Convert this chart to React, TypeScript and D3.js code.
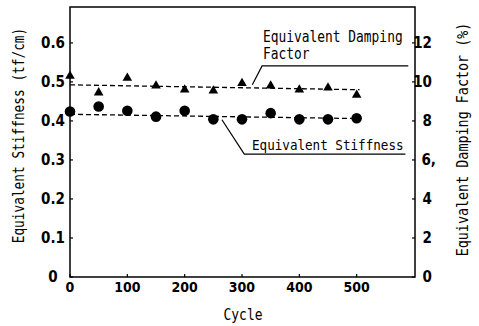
import React from "react";
import * as d3 from "d3";

// cycles where measurements were taken
const cycles = [0, 50, 100, 150, 200, 250, 300, 350, 400, 450, 500];
// equivalent stiffness (tf/cm), left axis
const stiffness = [0.424, 0.437, 0.426, 0.411, 0.426, 0.404, 0.404, 0.42, 0.404, 0.404, 0.407];
// equivalent damping factor (%), right axis
const damping = [10.3, 9.45, 10.2, 9.8, 9.6, 9.55, 9.93, 9.8, 9.6, 9.7, 9.33];

// dashed trend lines [cycle, value]
const stiffTrend: [number, number][] = [[0, 0.417], [505, 0.406]];
const dampTrend: [number, number][] = [[0, 9.85], [505, 9.6]];

const xTicks = [0, 100, 200, 300, 400, 500];
const leftTicks = [0, 0.1, 0.2, 0.3, 0.4, 0.5, 0.6];
const rightTicks = [0, 2, 4, 6, 8, 10, 12];
const rightTickLabels = ["0", "2", "4", "6,", "8", "10", "12"];

const W = 479;
const H = 326;
const M = { left: 70, right: 415, top: 7, bottom: 277 };

const monoFont = "'DejaVu Sans Mono', 'Liberation Mono', monospace";
const tickFont = "'DejaVu Sans Condensed', 'DejaVu Sans', sans-serif";

// tall, narrow label text like the original print
const Label = (props: { x: number; y: number; size: number; rotate?: boolean; anchor?: string; children: any }) => {
  const { x, y, size, rotate, anchor, children } = props;
  return (
    <g transform={`translate(${x},${y})${rotate ? " rotate(-90)" : ""} scale(1,1.18)`}>
      <text textAnchor={anchor || "start"} fontFamily={monoFont} fontSize={size}>
        {children}
      </text>
    </g>
  );
};

export default function App() {
  const x = d3.scaleLinear().domain([0, 600]).range([M.left, 414]);
  const yL = d3.scaleLinear().domain([0, 0.692]).range([M.bottom, M.top]);
  const yR = d3.scaleLinear().domain([0, 13.84]).range([M.bottom, M.top]);

  const stiffLine = d3.line<[number, number]>().x((d) => x(d[0])).y((d) => yL(d[1]));
  const dampLine = d3.line<[number, number]>().x((d) => x(d[0])).y((d) => yR(d[1]));
  const tri = d3.symbol().type(d3.symbolTriangle).size(40)();

  // leader lines for the annotations
  const dampLeader: [number, number][] = [[318, 9.85], [335, 10.82], [590, 10.82]];
  const stiffLeader: [number, number][] = [[265, 0.403], [304, 0.315], [585, 0.315]];

  return (
    <svg width={W} height={H} style={{ position: "absolute", left: 0, top: 0, background: "#fff" }}>
      {/* frame */}
      <rect
        x={M.left}
        y={M.top}
        width={M.right - M.left}
        height={M.bottom - M.top}
        fill="none"
        stroke="#000"
        strokeWidth={1.5}
      />

      {/* x ticks */}
      {xTicks.map((t) => (
        <g key={"x" + t}>
          <line x1={x(t)} x2={x(t)} y1={M.bottom} y2={M.bottom - 3} stroke="#000" strokeWidth={1.2} />
          <text x={x(t)} y={292} textAnchor="middle" fontFamily={tickFont} fontSize={14} fontWeight="bold">
            {t}
          </text>
        </g>
      ))}

      {/* left ticks */}
      {leftTicks.map((t) => (
        <g key={"l" + t}>
          <line x1={M.left} x2={M.left + 3} y1={yL(t)} y2={yL(t)} stroke="#000" strokeWidth={1.2} />
          <text
            x={53}
            y={yL(t) + 5}
            textAnchor="middle"
            fontFamily={tickFont}
            fontSize={15}
            fontWeight="bold"
          >
            {t === 0 ? "0" : t.toFixed(1)}
          </text>
        </g>
      ))}

      {/* right ticks */}
      {rightTicks.map((t, i) => (
        <g key={"r" + t}>
          <line x1={M.right} x2={M.right - 3} y1={yR(t)} y2={yR(t)} stroke="#000" strokeWidth={1.2} />
          <text
            x={i === 3 ? 436 : 432}
            y={yR(t) + 5}
            textAnchor="end"
            fontFamily={tickFont}
            fontSize={15}
            fontWeight="bold"
          >
            {rightTickLabels[i]}
          </text>
        </g>
      ))}

      {/* trend lines */}
      <path d={dampLine(dampTrend) || ""} fill="none" stroke="#000" strokeWidth={1.3} strokeDasharray="5,3" />
      <path d={stiffLine(stiffTrend) || ""} fill="none" stroke="#000" strokeWidth={1.3} strokeDasharray="5,3" />

      {/* damping points */}
      {cycles.map((c, i) => (
        <path key={"t" + c} d={tri || ""} transform={`translate(${x(c)},${yR(damping[i])})`} fill="#000" />
      ))}
      {/* stiffness points */}
      {cycles.map((c, i) => (
        <circle key={"c" + c} cx={x(c)} cy={yL(stiffness[i])} r={5.3} fill="#000" />
      ))}

      {/* annotations */}
      <path d={dampLine(dampLeader) || ""} fill="none" stroke="#000" strokeWidth={1.2} />
      <path d={stiffLine(stiffLeader) || ""} fill="none" stroke="#000" strokeWidth={1.2} />
      <Label x={263} y={42} size={12.9}>Equivalent Damping</Label>
      <Label x={263} y={59} size={12.9}>Factor</Label>
      <Label x={252} y={150} size={12.6}>Equivalent Stiffness</Label>

      {/* axis titles */}
      <Label x={243} y={320} size={13} anchor="middle">Cycle</Label>
      <Label x={24} y={135.5} size={12.8} rotate anchor="middle">Equivalent Stiffness (tf/cm)</Label>
      <Label x={468} y={139.5} size={13.4} rotate anchor="middle">Equivalent Damping Factor (%)</Label>
    </svg>
  );
}
